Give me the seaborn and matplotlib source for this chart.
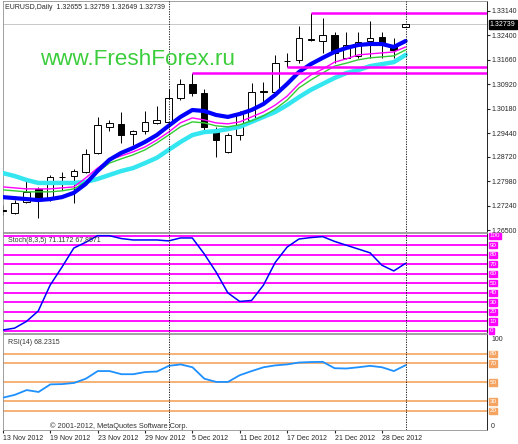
import numpy as np
import pandas as pd
import seaborn as sns
import matplotlib.pyplot as plt

sns.set_style("white")
plt.rcParams['font.family'] = ['Liberation Sans', 'DejaVu Sans']

# EURUSD daily candles (bar 0 = 13 Nov 2012)
opens = [1.2711, 1.2702, 1.2735, 1.2775, 1.2747, 1.2811, 1.2814, 1.2826, 1.2884, 1.2963,
         1.2972, 1.2941, 1.2950, 1.2975, 1.2978, 1.3050, 1.3093, 1.3066, 1.2947, 1.2887,
         1.2938, 1.2984, 1.3072, 1.3069, 1.3163, 1.3166, 1.3229, 1.3223, 1.3241, 1.3172,
         1.3178, 1.3223, 1.3235, 1.3211, 1.32655]
highs = [1.2726, 1.2741, 1.2799, 1.2781, 1.2817, 1.2826, 1.2835, 1.2896, 1.2993, 1.2984,
         1.3008, 1.2953, 1.3011, 1.3026, 1.3078, 1.3108, 1.3127, 1.3078, 1.2963, 1.2944,
         1.3011, 1.3096, 1.3099, 1.3181, 1.3187, 1.3269, 1.3308, 1.3293, 1.3250, 1.3250,
         1.3250, 1.3284, 1.3250, 1.3232, 1.32759]
lows = [1.2696, 1.2699, 1.2732, 1.2687, 1.2738, 1.2772, 1.2732, 1.2823, 1.2881, 1.2950,
        1.2914, 1.2908, 1.2941, 1.2973, 1.2976, 1.3044, 1.3056, 1.2953, 1.2872, 1.2884,
        1.2923, 1.2978, 1.3038, 1.3066, 1.3143, 1.3156, 1.3223, 1.3187, 1.3156, 1.3169,
        1.3172, 1.3172, 1.3172, 1.3172, 1.32649]
closes = [1.2709, 1.2732, 1.2765, 1.2744, 1.2811, 1.2812, 1.2829, 1.2881, 1.2969, 1.2975,
          1.2938, 1.2950, 1.2978, 1.2984, 1.3050, 1.3093, 1.3066, 1.2962, 1.2923, 1.2938,
          1.3005, 1.3069, 1.3070, 1.3156, 1.3161, 1.3232, 1.3225, 1.3241, 1.3187, 1.3211,
          1.3220, 1.3232, 1.3217, 1.3196, 1.32739]

# moving averages
ma_blue = [1.2750, 1.2747, 1.2744, 1.2741, 1.2744, 1.2750, 1.2763, 1.2790, 1.2829, 1.2863,
           1.2884, 1.2899, 1.2917, 1.2938, 1.2966, 1.2993, 1.3014, 1.3011, 1.2999, 1.2993,
           1.3002, 1.3014, 1.3032, 1.3060, 1.3093, 1.3129, 1.3153, 1.3172, 1.3190, 1.3202,
           1.3211, 1.3214, 1.3214, 1.3205, 1.3223]
ma_magenta = [1.2781, 1.2778, 1.2775, 1.2775, 1.2775, 1.2778, 1.2781, 1.2808, 1.2838, 1.2863,
              1.2875, 1.2887, 1.2902, 1.2923, 1.2947, 1.2975, 1.2990, 1.2984, 1.2975, 1.2972,
              1.2978, 1.2993, 1.3008, 1.3029, 1.3056, 1.3093, 1.3120, 1.3138, 1.3159, 1.3169,
              1.3181, 1.3184, 1.3187, 1.3190, 1.3205]
ma_green = [1.2772, 1.2769, 1.2766, 1.2766, 1.2766, 1.2769, 1.2775, 1.2796, 1.2826, 1.2853,
            1.2866, 1.2878, 1.2893, 1.2914, 1.2938, 1.2963, 1.2978, 1.2975, 1.2966, 1.2963,
            1.2969, 1.2981, 1.2996, 1.3017, 1.3044, 1.3081, 1.3105, 1.3126, 1.3147, 1.3156,
            1.3166, 1.3172, 1.3175, 1.3178, 1.3196]
ma_cyan = [1.2823, 1.2814, 1.2802, 1.2793, 1.2793, 1.2793, 1.2793, 1.2796, 1.2805, 1.2817,
           1.2829, 1.2838, 1.2853, 1.2869, 1.2893, 1.2917, 1.2938, 1.2947, 1.2950, 1.2956,
           1.2963, 1.2978, 1.2993, 1.3008, 1.3029, 1.3053, 1.3075, 1.3093, 1.3111, 1.3126,
           1.3135, 1.3147, 1.3153, 1.3159, 1.3181]

# horizontal levels (price, first bar)
level_prices = [1.3308, 1.3143, 1.3127]
level_start = [26, 24, 16]

stoch = [1, 3, 10, 21, 48, 67, 87, 93, 100, 100, 97, 95.5, 95.5, 95.5, 94.5, 97.6, 97.6,
         81, 62, 40, 31, 32, 48, 72, 88, 96.5, 98, 99, 94, 90, 86, 82, 69, 63, 71]
rsi = [34, 37, 42, 40, 48, 48.3, 49.5, 54, 62, 62, 58.7, 58.7, 61, 61.5, 67.5, 69, 66,
       54, 50.6, 50.6, 57.7, 62, 66, 68, 69, 71, 71.5, 71.7, 65, 64.7, 66, 67.5, 66, 62, 68.2]

price_ticks = [1.33140, 1.32400, 1.31660, 1.30920, 1.30180, 1.29440, 1.28720, 1.27980, 1.27240, 1.26500]
date_labels = ['13 Nov 2012', '19 Nov 2012', '23 Nov 2012', '29 Nov 2012', '5 Dec 2012',
               '11 Dec 2012', '17 Dec 2012', '21 Dec 2012', '28 Dec 2012']
date_bars = [0, 4, 8, 12, 16, 20, 24, 28, 32]
separators = [14, 34]
stoch_levels = [0, 10, 20, 30, 40, 50, 60, 70, 80, 90, 100]
rsi_levels = [20, 30, 50, 70, 80]

W, H = 518, 444
fig = plt.figure(figsize=(W / 100, H / 100), dpi=100)
fig.patch.set_facecolor('white')


def px_axes(x0, y0, x1, y1):
    return fig.add_axes([x0 / W, 1 - y1 / H, (x1 - x0) / W, (y1 - y0) / H])


ax_p = px_axes(3, 1, 487, 232)
ax_s = px_axes(3, 233, 487, 333)
ax_r = px_axes(3, 334, 487, 430)

bars = np.arange(len(closes))
o = np.array(opens)
c = np.array(closes)
up = c >= o

# candles
ax_p.vlines(bars, lows, highs, color='black', lw=0.7, zorder=2)
body = np.maximum(np.abs(c - o), 0.00008)
ax_p.bar(bars, body, bottom=np.minimum(o, c), width=0.55,
         color=np.where(up, 'white', 'black'), edgecolor='black', lw=0.7, zorder=3)

# moving averages
ma = pd.DataFrame({'bar': bars, 'cyan': ma_cyan, 'green': ma_green,
                   'magenta': ma_magenta, 'blue': ma_blue})
sns.lineplot(data=ma, x='bar', y='cyan', ax=ax_p, color='#33E6F0', lw=3.2, zorder=4)
sns.lineplot(data=ma, x='bar', y='green', ax=ax_p, color='#32CD32', lw=1.0, zorder=4)
sns.lineplot(data=ma, x='bar', y='magenta', ax=ax_p, color='#FF00FF', lw=1.0, zorder=4)
sns.lineplot(data=ma, x='bar', y='blue', ax=ax_p, color='#0000FF', lw=3.0, zorder=5)

x_right = (487 - 2.7) / 11.85
for lp, ls in zip(level_prices, level_start):
    ax_p.hlines(lp, ls, x_right, color='#FF00FF', lw=1.8, zorder=6)
ax_p.axhline(closes[-1], color='#C8C8C8', lw=0.7, zorder=1)

ax_p.set_ylim(1.26443, 1.33443)
ax_p.yaxis.tick_right()
ax_p.set_yticks(price_ticks)
ax_p.set_yticklabels(['%.5f' % t for t in price_ticks])
ax_p.annotate('%.5f' % closes[-1], xy=(1.0, closes[-1]), xycoords=('axes fraction', 'data'),
              xytext=(2, 0), textcoords='offset points', va='center', ha='left', fontsize=5,
              color='white', bbox=dict(boxstyle='square,pad=0.15', fc='black', ec='black'))

fig.text(5 / W, 1 - 7.5 / H, 'EURUSD,Daily  1.32655 1.32759 1.32649 1.32739',
         fontsize=5, va='center', ha='left')
fig.text(40 / W, 1 - 65 / H, 'www.FreshForex.ru', fontsize=16.2, color='#3CCD3C',
         va='baseline', ha='left')

# stochastic
for lv in stoch_levels:
    ax_s.axhline(lv, color='#FF00FF', lw=1.3, zorder=1)
sns.lineplot(x=bars, y=stoch, ax=ax_s, color='#0000FF', lw=1.1, zorder=3)
ax_s.set_ylim(-2.1, 102.8)
ax_s.text(5 / 484, 0.93, 'Stoch(8,3,5) 71.1172 67.8571', transform=ax_s.transAxes,
          fontsize=5, va='center', ha='left', color='#333333')
for lv in stoch_levels:
    ax_s.annotate(str(lv), xy=(1.0, lv), xycoords=('axes fraction', 'data'), xytext=(2, 0),
                  textcoords='offset points', va='center', ha='left', fontsize=4.5, color='white',
                  bbox=dict(boxstyle='square,pad=0.1', fc='#FF00FF', ec='#FF00FF'))

# rsi
for lv in rsi_levels:
    ax_r.axhline(lv, color='#F4A460', lw=1.2, zorder=1)
sns.lineplot(x=bars, y=rsi, ax=ax_r, color='#1E90FF', lw=1.3, zorder=3)
ax_r.set_ylim(0, 101)
ax_r.text(5 / 484, 0.91, 'RSI(14) 68.2315', transform=ax_r.transAxes,
          fontsize=5, va='center', ha='left', color='#333333')
ax_r.text(47 / 484, 0.045, '\u00a9 2001-2012, MetaQuotes Software Corp.', transform=ax_r.transAxes,
          fontsize=5.3, va='center', ha='left', color='#333333')
for lv in rsi_levels:
    ax_r.annotate(str(lv), xy=(1.0, lv), xycoords=('axes fraction', 'data'), xytext=(2, 0),
                  textcoords='offset points', va='center', ha='left', fontsize=4.5, color='white',
                  bbox=dict(boxstyle='square,pad=0.1', fc='#F4A460', ec='#F4A460'))
for lv, yy in [(100, 95), (0, 4)]:
    ax_r.annotate(str(lv), xy=(1.0, yy), xycoords=('axes fraction', 'data'), xytext=(3, 0),
                  textcoords='offset points', va='center', ha='left', fontsize=5)

for ax in (ax_p, ax_s, ax_r):
    ax.set_xlim((3 - 2.7) / 11.85, x_right)
    ax.set_xlabel('')
    ax.set_ylabel('')
    for sp in ax.spines.values():
        sp.set_color('#909090')
        sp.set_linewidth(0.6)
    ax.spines['right'].set_color('black')
    for s in separators:
        ax.axvline(s, color='black', lw=0.6, ls=(0, (1.5, 1.5)), zorder=7)

ax_p.tick_params(axis='y', labelsize=5, length=2, pad=1, right=True, direction='out')
ax_p.set_xticks([])
ax_s.set_xticks([])
ax_s.set_yticks([])
ax_r.set_yticks([])
ax_r.set_xticks(date_bars)
ax_r.set_xticklabels(date_labels, ha='left')
ax_r.tick_params(axis='x', labelsize=5, length=2, pad=1.5, bottom=True, direction='out')

fig.savefig('out.png', dpi=100)
